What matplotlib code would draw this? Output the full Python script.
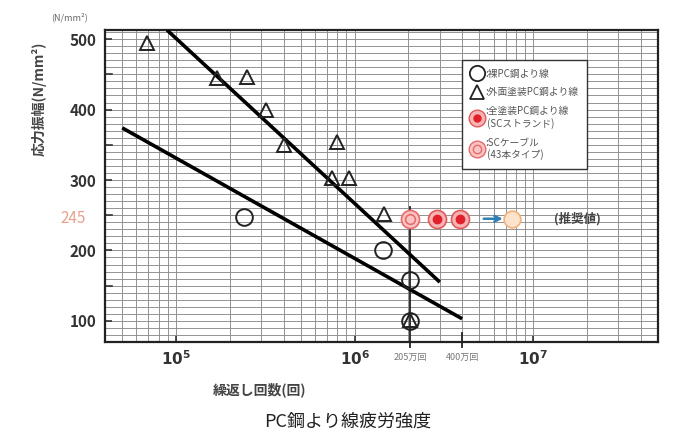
import numpy as np
import matplotlib.pyplot as plt
import matplotlib.transforms as mtransforms
from matplotlib.lines import Line2D
from matplotlib.ticker import LogLocator

plt.rcParams['font.family'] = ['Noto Sans CJK JP', 'DejaVu Sans']

# data
tri_n = [6.9e4, 1.7e5, 2.5e5, 3.2e5, 4.0e5, 8.0e5, 7.5e5, 9.3e5, 1.46e6, 2.05e6]
tri_s = [494, 445, 446, 399, 350, 354, 303, 303, 252, 101]
circ_n = [2.4e5, 1.44e6, 2.05e6, 2.05e6]
circ_s = [247, 200, 158, 100]
strand_n = [2.9e6, 3.9e6]
strand_s = [245, 245]
cable_n = [2.05e6]
cable_s = [245]
future_n = [7.6e6]
future_s = [245]
upper_n = [8.9e4, 3.0e6]
upper_s = [513, 155]
lower_n = [5.0e4, 4.0e6]
lower_s = [374, 103]
y_labels = [100, 200, 300, 400, 500]
x_labels = [1e5, 1e6, 1e7]

fig = plt.figure(figsize=(6.77, 4.36), dpi=100)
ax = fig.add_axes([0.155, 0.2156, 0.817, 0.7156])
ax.set_xscale('log')
ax.set_xlim(4e4, 5e7)
ax.set_ylim(70, 513)

# grid
ax.set_yticks(np.arange(80, 511, 10), minor=True)
ax.xaxis.set_minor_locator(LogLocator(base=10, subs=np.arange(2, 10)))
ax.grid(True, which='both', color='#8c8c8c', lw=0.65)
ax.tick_params(which='minor', length=0)
ax.set_axisbelow(True)

# visible ticks
ax.set_yticks(y_labels)
ax.set_yticklabels([str(v) for v in y_labels])
ax.set_xticks(x_labels)
ax.set_xticklabels(['$\\mathbf{10^5}$', '$\\mathbf{10^6}$', '$\\mathbf{10^7}$'])
ax.tick_params(which='major', direction='in', length=5, width=1.2,
               labelsize=11, colors='#333333', pad=6)
for lbl in ax.get_yticklabels():
    lbl.set_fontweight('bold')
for v in [150, 250, 350, 450]:
    ax.plot([4e4, 4.4e4], [v, v], color='#333333', lw=1.2)
for sp in ax.spines.values():
    sp.set_linewidth(1.6)
    sp.set_color('#222222')

# 245 label
ax.text(-0.035, 245, '245', transform=mtransforms.blended_transform_factory(ax.transAxes, ax.transData),
        ha='right', va='center', fontsize=11, color='#e8a08c')
ax.text(-0.03, 1.04, '(N/mm²)', transform=ax.transAxes, ha='right', va='center',
        fontsize=6.5, color='#666666')

# 205 / 400 million cycle marks
tr = mtransforms.blended_transform_factory(ax.transData, ax.transAxes)
ax.plot([2.05e6, 2.05e6], [70, 262], color='#222222', lw=1.3, zorder=2)
ax.plot([2.05e6, 2.05e6], [-0.015, 0.0], transform=tr, color='#222222', lw=1.3, clip_on=False)
ax.plot([4.0e6, 4.0e6], [-0.015, 0.03], transform=tr, color='#222222', lw=1.3, clip_on=False)
ax.text(2.05e6, -0.05, '205万回', transform=tr, ha='center', va='center', fontsize=6.5, color='#777777')
ax.text(4.0e6, -0.05, '400万回', transform=tr, ha='center', va='center', fontsize=6.5, color='#777777')

# S-N lines
ax.plot(upper_n, upper_s, color='black', lw=2.6, solid_capstyle='butt', zorder=3)
ax.plot(lower_n, lower_s, color='black', lw=2.6, solid_capstyle='butt', zorder=3)

# markers
ax.plot(circ_n, circ_s, 'o', ms=12, mfc='none', mec='#222222', mew=1.4, zorder=4)
ax.plot(tri_n, tri_s, '^', ms=10, mfc='none', mec='#222222', mew=1.4, zorder=4)
ax.plot(strand_n, strand_s, 'o', ms=13, mfc='#f7b3b3', mec='#e25a5a', mew=1.2, zorder=4)
ax.plot(strand_n, strand_s, 'o', ms=6, mfc='#e0202a', mec='#e0202a', zorder=5)
ax.plot(cable_n, cable_s, 'o', ms=13, mfc='#f9c4c4', mec='#e86a6a', mew=1.2, zorder=4)
ax.plot(cable_n, cable_s, 'o', ms=7, mfc='none', mec='#e86a6a', mew=1.2, zorder=5)
ax.plot(future_n, future_s, 'o', ms=12, mfc='#fde3cc', mec='#f2b27a', mew=1.2, zorder=4)
ax.annotate('', xy=(7.0e6, 245), xytext=(5.1e6, 245),
            arrowprops=dict(arrowstyle='->', color='#2f7fb5', lw=1.8))
ax.text(1.3e7, 245, '(推奨値)', ha='left', va='center', fontsize=9, fontweight='bold',
        color='#444444')

# legend
h_circ = Line2D([], [], ls='none', marker='o', ms=11, mfc='none', mec='#222222', mew=1.3)
h_tri = Line2D([], [], ls='none', marker='^', ms=10, mfc='none', mec='#222222', mew=1.3)
h_str = (Line2D([], [], ls='none', marker='o', ms=12, mfc='#f7b3b3', mec='#e25a5a'),
         Line2D([], [], ls='none', marker='o', ms=5, mfc='#e0202a', mec='#e0202a'))
h_cab = (Line2D([], [], ls='none', marker='o', ms=12, mfc='#f9c4c4', mec='#e86a6a'),
         Line2D([], [], ls='none', marker='o', ms=6, mfc='none', mec='#e86a6a'))
leg = ax.legend([h_circ, h_tri, h_str, h_cab],
                [':裸PC鋼より線', ':外面塗装PC鋼より線', ':全塗装PC鋼より線\n (SCストランド)',
                 ':SCケーブル\n (43本タイプ)'],
                loc='upper left', bbox_to_anchor=(0.637, 0.92), fontsize=7,
                frameon=True, fancybox=False, edgecolor='#333333', framealpha=1,
                handlelength=1.3, handletextpad=0.2, labelspacing=0.9, borderpad=0.9,
                labelcolor='#555555')
leg.get_frame().set_linewidth(1.0)
leg.set_zorder(6)

ax.set_ylabel('応力振幅(N/mm²)', fontsize=10, fontweight='bold', color='#444444', labelpad=10)
ax.yaxis.set_label_coords(-0.105, 0.78)
ax.set_xlabel('繰返し回数(回)', fontsize=10, fontweight='bold', color='#444444')
ax.xaxis.set_label_coords(0.28, -0.13)

fig.text(0.514, 0.032, 'PC鋼より線疲労強度', ha='center', va='center', fontsize=13, color='#222222')

fig.savefig('out.png', dpi=100)
